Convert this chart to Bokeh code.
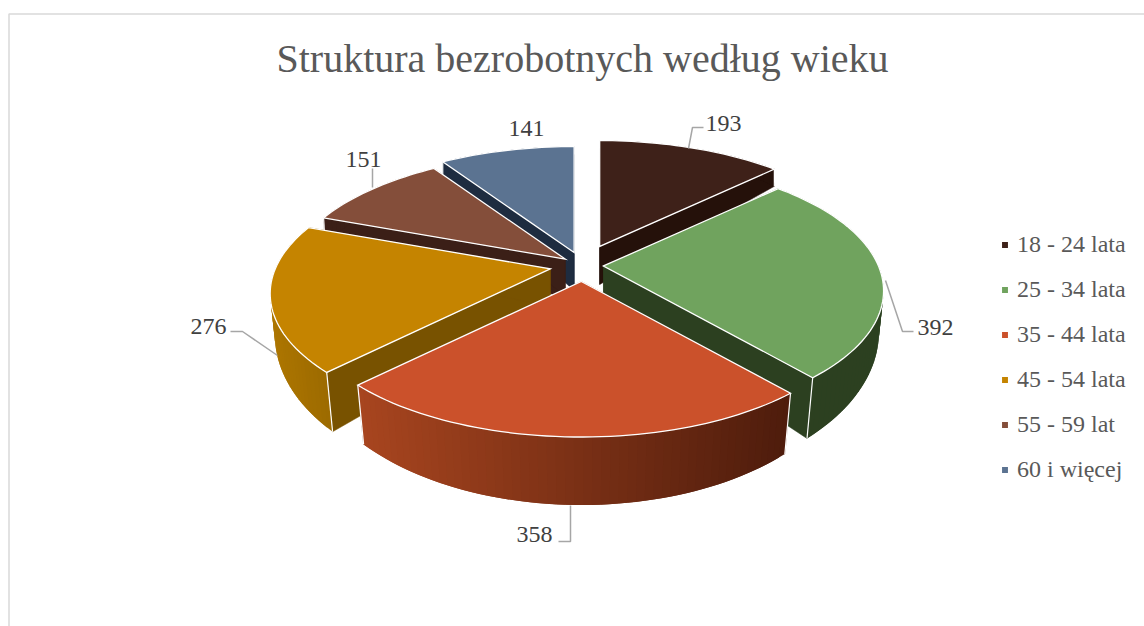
import numpy as np
from bokeh.plotting import figure
from bokeh.models import Range1d, Legend, LegendItem
from bokeh.core.properties import value
from bokeh.embed import file_html
from bokeh.resources import INLINE

# --- data ---
title = "Struktura bezrobotnych według wieku"
categories = ["18 - 24 lata", "25 - 34 lata", "35 - 44 lata", "45 - 54 lata", "55 - 59 lat", "60 i więcej"]
counts = [193, 392, 358, 276, 151, 141]

# --- styles ---
top_colors = ["#3e2119", "#70a35e", "#cb512b", "#c58400", "#844e3a", "#5b7391"]
side_colors = ["#25110a", "#2c4020", "#5a2010", "#785200", "#3b1f17", "#1e2c40"]
wall_left = ["#25110a", "#2c4020", "#a8451f", "#ad7600", "#3b1f17", "#1e2c40"]
wall_right = ["#25110a", "#2c4020", "#4e1c0c", "#9c6a00", "#3b1f17", "#1e2c40"]
explode = [44, 21, 34, 33, 22, 29]
draw_order = [5, 0, 4, 3, 1, 2]

# --- layout (screen pixels) ---
W, H = 1144, 626
CX, CY, RX, RY = 582, 265, 275, 126
PERSP, TILT = 0.19, 0.47
leaders = {0: [(688, 148), (692, 127), (703, 127)],
           1: [(885, 280), (902, 331), (913, 331)],
           2: [(570, 505), (570, 541), (558, 541)],
           3: [(277, 355), (242, 331), (230, 331)],
           4: [(372, 168), (372, 187)]}
label_pos = [(723, 123), (935, 327), (534, 534), (208, 326), (363, 159), (526, 128)]

p = figure(width=W, height=H, output_backend="svg", toolbar_location=None,
           x_range=Range1d(0, W), y_range=Range1d(H, 0),
           x_axis_location=None, y_axis_location=None, min_border=0)
p.grid.visible = False
p.outline_line_color = None
p.background_fill_color = "white"

# chart border (left and top only are on the page)
p.line([8.5, 8.5, W], [H, 13.5, 13.5], line_color="#d9d9d9", line_width=1.5)

fracs = np.array(counts) / sum(counts)
edges = np.concatenate([[0], np.cumsum(fracs)]) * 2 * np.pi


def hex2rgb(c):
    return np.array([int(c[i:i + 2], 16) for i in (1, 3, 5)], dtype=float)


def mix(a, b, t):
    v = hex2rgb(a) * (1 - t) + hex2rgb(b) * t
    return "#%02x%02x%02x" % tuple(int(round(x)) for x in v)


def depth(v):
    return 38 - 30 * v


def shrink(v):
    return max(0.0, 0.0186 * (0.7 - v))


def project(ax, ay, th):
    v = np.cos(th)
    w = 1 / (1 + PERSP * v)
    dx = RX * np.sin(th) * w
    dy = -RY * v * w
    top = (ax + dx, ay + dy)
    bot = (ax + dx * (1 - shrink(v)), ay + dy + depth(v))
    return top, bot


renderers = {}
for i in draw_order:
    t0, t1 = edges[i], edges[i + 1]
    mid = (t0 + t1) / 2
    ax = CX + explode[i] * np.sin(mid)
    ay = CY - TILT * explode[i] * np.cos(mid)
    thetas = np.linspace(t0, t1, max(int(np.degrees(t1 - t0) / 1.5), 8))
    pts = [project(ax, ay, t) for t in thetas]
    tops = [q[0] for q in pts]
    bots = [q[1] for q in pts]
    apex_bot = (ax, ay + depth(0))

    # straight side walls
    xs_r, ys_r = [], []
    for q in (pts[0], pts[-1]):
        xs_r.append([ax, q[0][0], q[1][0], apex_bot[0]])
        ys_r.append([ay, q[0][1], q[1][1], apex_bot[1]])
    p.patches(xs_r, ys_r, fill_color=side_colors[i], line_color=side_colors[i], line_width=0.5)

    # curved outer wall: each strip overlaps the next so that no seam shows
    xmin, xmax = min(q[0] for q in tops), max(q[0] for q in tops)
    xs_w, ys_w, cols = [], [], []
    for k in range(len(pts) - 1):
        n = min(k + 2, len(pts) - 1)
        xs_w.append([tops[k][0], tops[n][0], bots[n][0], bots[k][0]])
        ys_w.append([tops[k][1], tops[n][1], bots[n][1], bots[k][1]])
        f = ((tops[k][0] + tops[k + 1][0]) / 2 - xmin) / (xmax - xmin)
        cols.append(mix(wall_left[i], wall_right[i], f))
    p.patches(xs_w, ys_w, fill_color=cols, line_color=None)

    # white corners
    p.multi_line([[q[0][0], q[1][0]] for q in (pts[0], pts[-1])],
                 [[q[0][1], q[1][1]] for q in (pts[0], pts[-1])],
                 line_color="white", line_width=1.2)

    # top face
    renderers[i] = p.patch([ax] + [q[0] for q in tops], [ay] + [q[1] for q in tops],
                           fill_color=top_colors[i], line_color="white", line_width=1.3,
                           line_join="miter")

# leader lines
for pts in leaders.values():
    p.line([q[0] for q in pts], [q[1] for q in pts], line_color="#a6a6a6", line_width=1.5)

# data labels
p.text([q[0] for q in label_pos], [q[1] for q in label_pos], text=[str(c) for c in counts],
       text_font=value("Liberation Serif"), text_font_size="24px", text_color="#404040",
       text_align="center", text_baseline="middle")

# title
p.text([582], [58], text=[title], text_font=value("Liberation Serif"), text_font_size="40px",
       text_color="#595959", text_align="center", text_baseline="middle")

# legend
legend = Legend(items=[LegendItem(label=categories[i], renderers=[renderers[i]]) for i in range(6)],
                location=(1000, 143), orientation="vertical",
                background_fill_alpha=0, border_line_color=None,
                glyph_width=9, glyph_height=9, label_standoff=8, spacing=18, margin=0, padding=8,
                label_text_font="Liberation Serif", label_text_font_size="24px",
                label_text_color="#595959", label_height=25, label_text_baseline="middle")
p.add_layout(legend, "center")

open("out.html", "w").write(file_html(p, INLINE))
